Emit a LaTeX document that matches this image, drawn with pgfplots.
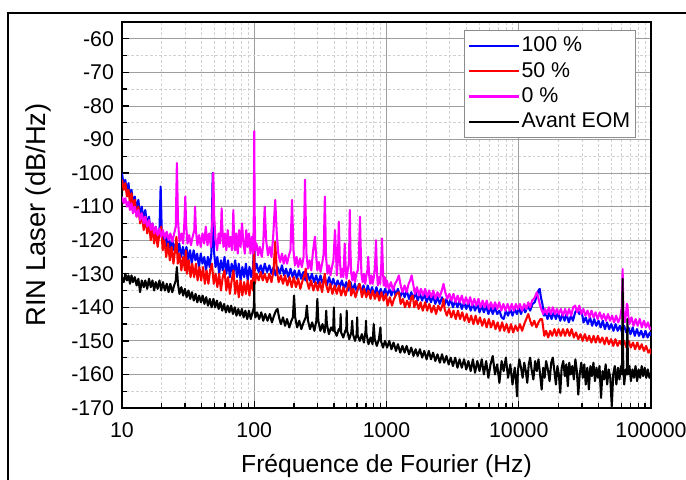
\documentclass[border=0pt]{standalone}
\usepackage{fontspec}
\setmainfont{Liberation Sans}
\usepackage{pgfplots}
\pgfplotsset{compat=1.18}
\definecolor{cB}{RGB}{0,0,255}
\definecolor{cR}{RGB}{255,0,0}
\definecolor{cM}{RGB}{255,0,255}
\begin{document}
\begin{tikzpicture}
\begin{axis}[
  at={(91.5pt,53.25pt)}, anchor=south west,
  scale only axis, width=396.75pt, height=289.5pt,
  xmode=log, xmin=10, xmax=100000, ymin=-170, ymax=-55,
  xtick={10,100,1000,10000,100000},
  xticklabels={10,100,1000,10000,100000},
  minor xtick={20,30,40,50,60,70,80,90,200,300,400,500,600,700,800,900,2000,3000,4000,5000,6000,7000,8000,9000,20000,30000,40000,50000,60000,70000,80000,90000},
  ytick={-170,-160,-150,-140,-130,-120,-110,-100,-90,-80,-70,-60},
  yticklabels={-170,-160,-150,-140,-130,-120,-110,-100,-90,-80,-70,-60},
  minor ytick={-165,-155,-145,-135,-125,-115,-105,-95,-85,-75,-65,-55},
  xtick pos=bottom, ytick pos=left, tick align=inside,
  major tick length=5pt, minor tick length=4pt,
  every tick/.style={black, line width=1pt},
  grid=both,
  major grid style={color=black!38, line width=0.6pt, solid},
  minor grid style={color=black!18, line width=0.5pt, dash pattern=on 2pt off 1.5pt},
  axis line style={line width=1.3pt},
  tick label style={font=\fontsize{16}{19}\selectfont},
  xticklabel style={yshift=-7.5pt},
  yticklabel style={xshift=-2.5pt},
  xlabel={Fréquence de Fourier (Hz)},
  ylabel={RIN Laser (dB/Hz)},
  every axis x label/.style={at={(axis description cs:0.5,-0.1503)}, anchor=center, font=\fontsize{18.5}{22}\selectfont},
  every axis y label/.style={at={(axis description cs:-0.1588,0.5)}, anchor=center, rotate=90, font=\fontsize{20.5}{24}\selectfont},
  legend cell align=left,
  legend image code/.code={\draw[#1] (0pt,0pt) -- (37pt,0pt);},
  legend style={at={(rel axis cs:0.9716,0.979)}, anchor=north east, draw=black!45, line width=0.6pt,
    font=\fontsize{16}{19}\selectfont, row sep=2pt, inner xsep=2.5pt, inner ysep=3pt,
    nodes={inner sep=1.5pt, text height=11.5pt, text depth=2.5pt}},
  every axis plot/.append style={line width=1.55pt, line join=round},
]
% 100 %
\addplot[cB] coordinates {
(10,-100)(10.3,-104)(10.6,-102)(10.9,-106)(11.2,-103)(11.5,-108)(11.8,-105)(12.1,-109)(12.5,-107)(12.9,-111)(13.3,-108)(13.7,-113)(14.1,-110)(14.6,-114)(15,-111)(15.5,-116)(16,-113)(16.5,-118)(17,-115)(17.5,-119)(18,-116)(18.6,-120)(19.2,-117)(19.6,-104)(20,-118)(20.6,-121)(21.2,-118)(21.9,-122)(22.6,-119)(23.3,-123)(24,-120)(24.8,-123)(25.5,-121)(26.3,-124)(27.1,-121)(28,-125)(28.9,-122)(29.8,-125)(30.7,-122)(31.7,-126)(32.7,-123)(33.7,-127)(34.8,-123)(35.9,-126)(37,-124)(38.2,-128)(39.4,-124)(40.6,-127)(41.9,-125)(43.2,-129)(44.6,-125)(46,-128)(47.4,-124)(48.5,-100)(49.5,-123)(51,-128)(52.6,-125)(54.3,-130)(56,-126)(57.8,-129)(59.6,-125)(61.5,-130)(63.4,-126)(65.4,-131)(67.5,-127)(69.6,-130)(71.8,-126)(74.1,-131)(76.4,-127)(78.8,-132)(81.3,-128)(83.9,-131)(86.5,-127)(89.2,-132)(92,-128)(94.9,-131)(97.9,-128)(100,-119)(101,-129)
(104,-127)(108,-129.5)(112,-127.5)(116,-130)(120,-127)(125,-129.5)(130,-127.5)(135,-130)(140,-128)(145,-130.5)(150,-128)(156,-130)(162,-127.5)(168,-130.5)(174,-128.5)(181,-131)(188,-128.5)(195,-131)(202,-129)(210,-131.5)(218,-129)(226,-131.5)(235,-129.5)(244,-132)(253,-130)(263,-132)(273,-130)(283,-132.5)(294,-130.5)(305,-133)(317,-130.5)(329,-133)(341,-131)(354,-133.5)(368,-131)(382,-133.5)(396,-131.5)(411,-134)(427,-132)(443,-134)(460,-132)(478,-134.5)(496,-132.5)(515,-135)(535,-132.5)(555,-135)(576,-133)(598,-135.5)(621,-133)(645,-135.5)(670,-133.5)(695,-136)(722,-133.5)(750,-136)(778,-134)(808,-136.5)(839,-134)(871,-136.5)(904,-134.5)(939,-136.5)(975,-134.5)
(1010,-136.5)(1050,-134.5)(1090,-136.5)(1130,-134)(1170,-136.5)(1220,-134.5)(1270,-137)(1320,-135)(1370,-137)(1420,-135)(1480,-137.5)(1540,-135.5)(1600,-137.5)(1660,-135.5)(1720,-138)(1790,-136)(1860,-138)(1930,-136)(2010,-138.5)(2090,-136.5)(2170,-138.5)(2250,-136.5)(2340,-139)(2430,-137)(2530,-139)(2630,-137)(2730,-139.5)(2840,-137.5)(2950,-139.5)(3060,-137.5)(3180,-140)(3310,-138)(3440,-140)(3570,-138)(3710,-140.5)(3860,-138.5)(4010,-140.5)(4160,-138.5)(4330,-141)(4500,-139)(4670,-141)(4860,-139)(5050,-141.5)(5250,-139.5)(5450,-141.5)(5670,-139.5)(5890,-142)(6120,-140)(6360,-142)(6610,-140)(6870,-142)(7140,-141)(7420,-143)(7690,-143.5)(7990,-141)(8300,-142.5)(8630,-140.5)(8970,-142.5)(9320,-140.5)(9680,-142)
(10000,-140)(10400,-142)(10800,-140)(11200,-141.5)(11700,-139.5)(12200,-141)(12700,-139)(13200,-138.5)(13700,-136.5)(14100,-135)(14400,-134.5)(14700,-137)(15100,-139)(15500,-142.5)(15900,-141.5)(16500,-143.5)(17100,-141.5)(17700,-143.5)(18400,-141.5)(19100,-143.5)(19800,-141.5)(20600,-144)(21400,-142)(22200,-144)(23000,-142)(23900,-144.5)(24800,-142.5)(25700,-144)(26700,-141.5)(27700,-140.5)(28700,-142)(29800,-141)(30900,-144.5)(32100,-143)(33300,-145)(34600,-143)(35900,-145.5)(37200,-143.5)(38600,-145.5)(40100,-144)(41600,-146)(43200,-144)(44800,-146.5)(46500,-144.5)(48300,-146.5)(50100,-145)(52000,-147)(54000,-145)(56000,-147)(58200,-145.5)(60400,-147.5)(62600,-145.5)(65000,-147.5)(67500,-146)(70000,-148)(72700,-146)(75400,-148.5)(78300,-146.5)(81200,-148.5)(84300,-147)(87500,-149)(90800,-147)(94300,-149)(97900,-147.5)(100000,-148.5)
};
\addlegendentry{100 \%}
% 50 %
\addplot[cR] coordinates {
(10,-102)(10.3,-105)(10.6,-103)(10.9,-107)(11.2,-105)(11.5,-109)(11.8,-106)(12.1,-110)(12.5,-108)(12.9,-113)(13.3,-110)(13.7,-115)(14.1,-112)(14.6,-117)(15,-113)(15.5,-118)(16,-115)(16.5,-120)(17,-116)(17.5,-121)(18,-117)(18.6,-122)(19.2,-118)(19.8,-116)(20.3,-123)(20.9,-120)(21.6,-125)(22.3,-121)(23,-126)(23.7,-122)(24.5,-127)(25.2,-123)(25.8,-119)(26.4,-127)(27.2,-124)(28.1,-129)(29,-125)(29.9,-129)(30.4,-123)(31,-130)(32,-126)(33,-131)(34,-127)(35.1,-131)(36.2,-127)(37.3,-132)(38.5,-128)(39.7,-132)(41,-128)(42.3,-133)(43.6,-129)(45,-133)(46.4,-129)(47.9,-127)(49.4,-133)(51,-130)(52.6,-134)(54.3,-130)(56,-135)(57.8,-131)(59.6,-129)(61.5,-135)(63.4,-131)(65.4,-136)(67.5,-132)(69.6,-129)(71.8,-136)(74.1,-132)(76.4,-137)(78.8,-132)(81.3,-136.5)(83.9,-132.5)(86.5,-136)(89.2,-132)(92,-136.5)(94.9,-132)(97.9,-135)(99.5,-120)(101,-133)
(104,-130)(108,-132)(112,-129.5)(116,-132)(120,-130)(125,-132.5)(130,-130)(135,-132.5)(140,-129)(144,-120.5)(148,-129)(153,-132.5)(159,-130.5)(165,-133)(171,-130.5)(178,-133.5)(185,-131)(192,-134)(199,-131)(207,-134)(215,-131.5)(223,-134.5)(232,-132)(241,-130)(245,-128.5)(250,-132)(259,-134.5)(269,-132)(280,-135)(291,-132.5)(302,-135)(314,-132.5)(326,-135.5)(336,-131.5)(342,-130)(348,-133)(362,-135.5)(376,-133)(390,-136)(405,-133.5)(421,-136)(437,-133.5)(454,-136.5)(472,-134)(490,-136.5)(509,-134)(522,-132)(530,-133)(540,-136.5)(561,-134.5)(583,-137)(606,-134.5)(625,-133)(635,-134)(652,-137)(677,-134.5)(703,-137)(730,-135)(758,-137.5)(787,-135)(817,-137.5)(849,-135.5)(882,-138)(916,-135.5)(951,-138)(988,-136)
(1020,-139.5)(1060,-137)(1100,-139.5)(1140,-137.5)(1190,-136)(1240,-135.5)(1280,-139)(1330,-137.5)(1380,-140)(1430,-138)(1490,-140)(1540,-137)(1580,-136.5)(1620,-140)(1680,-138)(1750,-140.5)(1810,-138.5)(1880,-141)(1960,-138.5)(2030,-141)(2110,-139)(2190,-141.5)(2280,-139.5)(2370,-142)(2460,-139.5)(2560,-141)(2660,-139)(2700,-137.5)(2750,-140.5)(2860,-142.5)(2970,-140.5)(3090,-143)(3210,-141)(3340,-143.5)(3470,-141)(3600,-143.5)(3740,-141.5)(3890,-144)(4040,-142)(4200,-144.5)(4370,-142.5)(4540,-145)(4720,-142.5)(4900,-145)(5090,-143)(5290,-145.5)(5500,-143.5)(5720,-146)(5940,-143.5)(6170,-146)(6420,-144)(6670,-146.5)(6930,-144.5)(7200,-147)(7490,-144.5)(7780,-147)(8090,-145)(8410,-147.5)(8740,-145)(9080,-147.5)(9440,-145.5)(9810,-147)
(10200,-145)(10600,-147)(11000,-145)(11400,-143.5)(11800,-142)(12200,-144)(12600,-145.5)(13100,-144)(13600,-146)(14100,-144.5)(14600,-143.5)(15000,-143.5)(15300,-146)(15600,-148.5)(16100,-147)(16700,-149)(17300,-147)(17900,-148.5)(18600,-146.5)(19300,-148.5)(20000,-146.5)(20800,-148.5)(21600,-146.5)(22400,-148.5)(23300,-146.5)(24200,-148.5)(25100,-146.5)(26100,-149)(27100,-147.5)(28200,-149.5)(29300,-148)(30400,-150)(31600,-148)(32800,-150)(34100,-148.5)(35400,-150.5)(36800,-148.5)(38200,-150.5)(39700,-148.5)(41200,-150.5)(42800,-149)(44500,-151)(46200,-149)(48000,-151)(49900,-149.5)(51800,-151.5)(53800,-149.5)(55900,-151.5)(58100,-150)(60400,-151.5)(62700,-150)(65200,-152)(67700,-150)(70300,-152)(73100,-150.5)(75900,-152.5)(78800,-150.5)(81900,-152.5)(85100,-151)(88400,-153)(91800,-151.5)(95400,-153.5)(99100,-152.5)(100000,-154)
};
\addlegendentry{50 \%}
% 0 %
\addplot[cM] coordinates {
(10,-107)(10.3,-109)(10.6,-107.5)(10.9,-110)(11.2,-108.5)(11.5,-111)(11.8,-109)(12.1,-112)(12.5,-110)(12.9,-113)(13.3,-111)(13.7,-114)(14.1,-112)(14.6,-115)(15,-113)(15.5,-116)(16,-114)(16.5,-117)(17,-115)(17.5,-118)(18,-116)(18.6,-118.5)(19.2,-116.5)(19.8,-119)(20.4,-117)(21.1,-119.5)(21.8,-117.5)(22.5,-120)(23.2,-118)(24,-120.5)(24.8,-118)(25.5,-116)(26,-97)(26.5,-114)(27.2,-120.5)(28.1,-118)(29,-121)(29.6,-115)(30.1,-107)(30.6,-116)(31.3,-121)(32.2,-118.5)(33.2,-121.5)(34.2,-119)(35.2,-117)(35.7,-110)(36.2,-117)(37.2,-121.5)(38.3,-118.5)(39.4,-122)(40.6,-118)(41.8,-121)(43,-116)(44.3,-121.5)(45.6,-118)(47,-122)(48.2,-114)(49,-100)(49.8,-113)(51,-120)(52.4,-123)(53.8,-118)(55.2,-121)(56.1,-116)(56.7,-110.5)(57.3,-116)(58.5,-122)(60,-118)(61.5,-123)(63,-117)(64.6,-122)(66.2,-119)(67.8,-123)(68.9,-117)(69.5,-111)(70.1,-117)(71.5,-123)(73.2,-118)(75,-124)(76.9,-117)(78.8,-122)(80.8,-115)(82.8,-121)(84.9,-124)(87,-117)(89.2,-122)(91.4,-118)(93.7,-124)(96,-119)(98.2,-124)(99.3,-112)(100,-87.5)(100.7,-112)(102,-123)
(104,-121)(107,-124.5)(110,-122)(114,-125)(117,-121)(120,-110)(123,-120)(127,-124.5)(131,-122)(135,-125)(139,-119)(144,-108)(148,-118)(152,-124)(157,-126.5)(162,-124)(167,-127)(172,-124.5)(177,-127)(183,-124.5)(188,-123)(193,-108)(198,-123)(203,-127.5)(209,-125)(215,-128)(222,-125.5)(229,-128)(236,-125)(242,-102)(248,-124)(255,-128.5)(262,-126)(270,-129)(277,-124)(283,-121)(288,-119)(293,-124)(300,-129)(308,-126.5)(317,-129.5)(326,-127)(335,-124)(342,-107)(349,-125)(358,-130)(367,-127.5)(377,-130.5)(387,-128)(397,-126)(403,-121)(408,-117)(414,-123)(421,-130.5)(429,-126)(436,-114.5)(443,-125)(452,-131)(462,-128.5)(472,-131)(478,-126)(483,-121)(488,-126)(498,-131.5)(509,-129)(518,-127)(523,-121)(528,-111)(533,-122)(540,-129.5)(552,-132)(565,-129.5)(578,-132.5)(592,-130)(606,-129)(618,-125)(624,-119)(630,-113)(636,-120)(646,-130)(660,-132.5)(675,-130)(690,-133)(705,-130.5)(718,-129)(728,-125)(738,-130)(752,-133)(768,-130.5)(785,-133)(802,-131)(818,-128)(833,-120)(845,-129)(860,-133.5)(878,-131)(896,-133)(912,-128)(925,-119.5)(938,-128)(952,-133.5)(970,-131)(988,-134)
(1005,-132)(1040,-134.5)(1080,-132.5)(1120,-135)(1160,-133)(1200,-132)(1240,-130.5)(1280,-133.5)(1320,-135.5)(1370,-133.5)(1420,-135.5)(1470,-133)(1510,-132)(1550,-130.5)(1590,-133)(1640,-136)(1700,-134)(1760,-136.5)(1820,-134.5)(1890,-136.5)(1960,-134.5)(2030,-137)(2100,-135)(2180,-137)(2260,-135)(2340,-137.5)(2430,-135.5)(2520,-137)(2620,-135)(2700,-133)(2780,-135.5)(2880,-137.5)(2990,-136)(3100,-138)(3210,-136)(3330,-138.5)(3450,-136.5)(3580,-138.5)(3710,-136.5)(3850,-139)(3990,-137)(4140,-139)(4290,-137)(4450,-139.5)(4610,-137.5)(4780,-139.5)(4960,-137.5)(5140,-140)(5330,-138)(5530,-140)(5730,-138)(5940,-140.5)(6160,-138.5)(6390,-140.5)(6620,-138.5)(6870,-140.5)(7120,-138.5)(7380,-141)(7650,-139)(7940,-141)(8230,-139)(8530,-141)(8850,-139)(9170,-141)(9510,-139)(9860,-140.5)
(10200,-139)(10600,-141)(11000,-139)(11400,-140.5)(11800,-138.5)(12200,-140)(12600,-138)(13000,-137.5)(13400,-136.5)(13700,-135.5)(14000,-137)(14400,-139)(14800,-140.5)(15300,-142)(15800,-140.5)(16300,-142)(16900,-140)(17500,-142)(18100,-140)(18800,-142)(19400,-140.5)(20100,-142)(20800,-140.5)(21600,-142.5)(22400,-140.5)(23200,-142.5)(24000,-140.5)(24900,-142.5)(25800,-140)(26700,-139.5)(27700,-141.5)(28700,-139.5)(29700,-142)(30800,-140.5)(31900,-142.5)(33100,-141)(34300,-143)(35500,-141)(36800,-143)(38100,-141.5)(39500,-143.5)(41000,-141.5)(42500,-143.5)(44000,-142)(45600,-144)(47300,-142)(49000,-144)(50800,-142.5)(52600,-144.5)(54500,-142.5)(56500,-144.5)(58500,-143)(60200,-140)(61000,-128.6)(61800,-140.5)(63300,-144.5)(64800,-142)(65600,-139)(66300,-139.2)(67100,-142)(68700,-145)(71200,-143)(73800,-145.5)(76500,-143.5)(79300,-145.5)(82200,-143.5)(85200,-146)(88300,-144)(91500,-146)(94800,-144.5)(98200,-146.5)(100000,-146)
};
\addlegendentry{0 \%}
% Avant EOM
\addplot[black] coordinates {
(10,-131)(10.3,-132.5)(10.6,-130)(10.9,-132)(11.2,-130.5)(11.5,-133)(11.8,-130.5)(12.1,-132.5)(12.5,-131)(12.9,-133.5)(13.3,-131.5)(13.7,-135.5)(14.1,-132)(14.6,-134)(15,-132)(15.5,-134.5)(16,-131.5)(16.5,-134)(17,-132)(17.5,-135)(18,-132.5)(18.6,-134.5)(19.2,-132)(19.8,-135)(20.4,-132.5)(21.1,-135)(21.8,-133)(22.5,-135.5)(23.2,-133)(24,-135.5)(24.8,-133.5)(25.5,-132)(26,-128)(26.5,-133)(27.2,-136)(28.1,-134)(29,-136.5)(29.9,-134.5)(30.8,-137)(31.8,-135)(32.8,-137.5)(33.8,-135.5)(34.9,-138)(36,-136)(37.1,-138.5)(38.3,-136.5)(39.5,-138.5)(40.7,-136.5)(42,-139)(43.3,-137)(44.7,-139.5)(46.1,-137.5)(47.6,-140)(49.1,-137.5)(50.6,-140)(52.2,-138)(53.8,-140.5)(55.5,-138.5)(57.3,-141)(59.1,-139)(61,-141.5)(62.9,-139.5)(64.9,-141.5)(66.9,-139.5)(69,-142)(71.2,-140)(73.4,-142.5)(75.7,-140.5)(78.1,-142.5)(80.6,-140.5)(83.1,-143)(85.7,-141)(88.4,-143.5)(91.2,-141)(94.1,-143.5)(97,-141.5)(99.5,-140)(100,-132.5)(100.5,-141)(102,-143)
(105,-141.5)(109,-143.5)(113,-141.5)(117,-144)(121,-142)(126,-144)(131,-142)(136,-144.5)(141,-142.5)(146,-141)(150,-140.5)(154,-143)(159,-145)(165,-143)(171,-145.5)(177,-143.5)(184,-146)(191,-144)(196,-143)(200,-136.5)(204,-143)(211,-146)(219,-144)(227,-146.5)(236,-144.5)(245,-143)(250,-139.5)(255,-144)(264,-146.5)(274,-144.5)(285,-147)(295,-144)(300,-137.5)(305,-144)(316,-147)(328,-145)(340,-147.5)(346,-145)(350,-141)(354,-145)(367,-148)(381,-146)(395,-147)(400,-140)(405,-147)(420,-148.5)(436,-146.5)(446,-147)(450,-142)(454,-147.5)(471,-149)(488,-147)(496,-146.5)(500,-141)(504,-147)(523,-149.5)(542,-147.5)(550,-144)(558,-148)(578,-150)(595,-148)(600,-143)(606,-148.5)(628,-150)(651,-148)(675,-150.5)(695,-147)(700,-144)(706,-148)(731,-151)(758,-149)(785,-151)(800,-145)(815,-149.5)(845,-151.5)(876,-149.5)(900,-146)(908,-150)(941,-152)(975,-150)
(1010,-152)(1050,-150)(1090,-152.5)(1130,-150.5)(1180,-153)(1220,-151)(1270,-153.5)(1320,-151.5)(1370,-153.5)(1420,-151.5)(1480,-154)(1540,-152)(1600,-154.5)(1660,-152.5)(1720,-154.5)(1790,-152.5)(1860,-155)(1930,-153)(2010,-155.5)(2090,-153)(2170,-155.5)(2250,-153.5)(2340,-156)(2430,-154)(2530,-156.5)(2630,-154)(2730,-156.5)(2840,-154.5)(2950,-157)(3060,-155)(3180,-157.5)(3310,-155)(3440,-158)(3570,-155.5)(3710,-158)(3860,-155.5)(4010,-158.5)(4160,-156)(4330,-159)(4500,-155.5)(4670,-159.5)(4860,-156)(5050,-159)(5250,-155.5)(5450,-160)(5670,-156)(5890,-161)(6120,-157)(6360,-154.5)(6610,-160)(6870,-157)(7140,-162.5)(7420,-156)(7690,-159)(7990,-155)(8300,-161)(8630,-157)(8970,-163)(9320,-158)(9550,-162)(9700,-166.5)(9850,-159)
(10100,-155.5)(10400,-158)(10700,-161)(11000,-156.5)(11300,-159)(11600,-162.5)(11900,-157)(12200,-155)(12500,-158.5)(12900,-161.5)(13300,-156)(13700,-159)(14100,-155.5)(14500,-160)(14900,-164.5)(15300,-158)(15700,-161)(16100,-156)(16600,-158.5)(17100,-162)(17600,-156.5)(18100,-155)(18600,-159)(19100,-163)(19600,-157.5)(20100,-160)(20600,-165.5)(21100,-158)(21700,-156)(22300,-160.5)(22900,-157)(23500,-163.5)(24100,-156.5)(24700,-160)(25400,-157.5)(26100,-161.5)(26800,-155.5)(27500,-159)(28200,-166)(28900,-160)(29700,-156.5)(30500,-161)(31300,-157)(32100,-163)(33000,-158)(33900,-164.5)(34800,-157.5)(35700,-160.5)(36700,-156.5)(37700,-162)(38700,-158)(39700,-161)(40800,-157.5)(41900,-167)(43000,-159)(44200,-161.5)(45400,-157)(46600,-163)(47900,-158.5)(49200,-161)(50500,-169.5)(51800,-160)(53200,-157.5)(54700,-163)(56200,-158)(57700,-161.5)(59300,-157.5)(60300,-160)(61000,-131.5)(61700,-158)(62700,-163)(64400,-158.5)(65600,-160)(66300,-143.5)(67000,-160)(68700,-157.5)(70500,-162)(72400,-158.5)(74400,-161)(76400,-157.5)(78500,-162)(80600,-158.5)(82800,-161)(85000,-157.5)(87300,-160.5)(89700,-158)(92100,-161)(94600,-158.5)(97200,-161)(100000,-159.5)
};
\addlegendentry{Avant EOM}
\end{axis}
\draw[line width=1.9pt] (6pt,-20pt) -- (6pt,349.5pt) -- (540pt,349.5pt);
\pgfresetboundingbox
\useasboundingbox (0,0) rectangle (514.5pt,359.25pt);
\end{tikzpicture}
\end{document}
